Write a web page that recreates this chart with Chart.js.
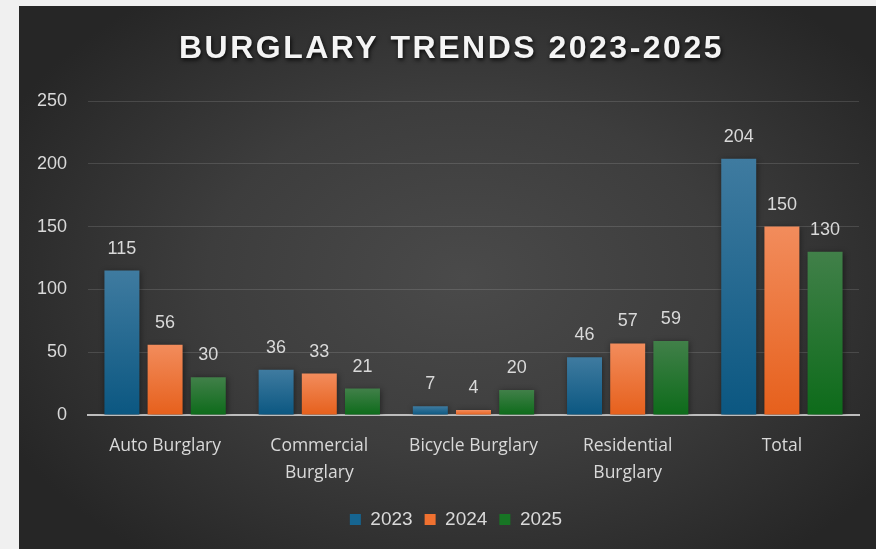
<!DOCTYPE html>
<html>
<head>
<meta charset="utf-8">
<script src="https://cdn.jsdelivr.net/npm/chart.js@4.4.0/dist/chart.umd.min.js"></script>
<style>
  html, body { margin: 0; padding: 0; background: #f0f0f0; }
  body { width: 876px; height: 549px; overflow: hidden; position: relative; }
  #panel {
    position: absolute; left: 19px; top: 6px; width: 857px; height: 543px;
    background: radial-gradient(ellipse 60% 65% at 52% 50%, #4a4a4a 0%, #3d3d3d 50%, #262626 100%);
  }
  canvas { display: block; }
</style>
</head>
<body>
<div id="panel"><canvas id="chart" width="857" height="543"></canvas></div>
<script>
// 数据
const categories = ['Auto Burglary', ['Commercial', 'Burglary'], 'Bicycle Burglary', ['Residential', 'Burglary'], 'Total'];
const years = ['2023', '2024', '2025'];
const values2023 = [115, 36, 7, 46, 204];
const values2024 = [56, 33, 4, 57, 150];
const values2025 = [30, 21, 20, 59, 130];
const yTicks = [0, 50, 100, 150, 200, 250];

// 颜色：上浅下深
const palette = [
  { top: '#3f7ba0', bottom: '#0b5781', solid: '#166591' },
  { top: '#f28c5c', bottom: '#e6601c', solid: '#f07130' },
  { top: '#418049', bottom: '#0d6b1a', solid: '#177524' }
];

const textColor = '#d9d9d9';

function barGradient(idx) {
  return function (ctx) {
    const chart = ctx.chart;
    if (!chart.chartArea || ctx.raw === undefined) return palette[idx].solid;
    const y = chart.scales.y;
    const top = y.getPixelForValue(ctx.raw);
    const bottom = y.getPixelForValue(0);
    const g = chart.ctx.createLinearGradient(0, top, 0, bottom);
    g.addColorStop(0, palette[idx].top);
    g.addColorStop(1, palette[idx].bottom);
    return g;
  };
}

// 标题插件
const titlePlugin = {
  id: 'fancyTitle',
  afterDraw(chart) {
    const c = chart.ctx;
    c.save();
    c.font = 'bold 32px "Liberation Sans", Arial, sans-serif';
    c.letterSpacing = '2.5px';
    c.textAlign = 'center';
    c.textBaseline = 'middle';
    c.shadowColor = 'rgba(0,0,0,0.85)';
    c.shadowBlur = 4;
    c.shadowOffsetX = 1;
    c.shadowOffsetY = 2;
    c.fillStyle = '#f4f4f4';
    c.fillText('BURGLARY TRENDS 2023-2025', chart.width / 2 + 4, 43);
    c.restore();
  }
};

// 图例稍微右移
const legendShift = {
  id: 'legendShift',
  afterLayout(chart) {
    if (chart.legend) {
      chart.legend.left += 17;
      chart.legend.right += 17;
    }
  }
};

// 柱子阴影
const shadowPlugin = {
  id: 'barShadow',
  beforeDatasetsDraw(chart) {
    const c = chart.ctx;
    c.save();
    c.shadowColor = 'rgba(0,0,0,0.45)';
    c.shadowBlur = 6;
    c.shadowOffsetX = 1;
    c.shadowOffsetY = 1;
  },
  afterDatasetsDraw(chart) {
    chart.ctx.restore();
  }
};

// 数值标签
const valueLabels = {
  id: 'valueLabels',
  afterDatasetsDraw(chart) {
    const c = chart.ctx;
    c.save();
    c.font = '18px "Liberation Sans", Arial, sans-serif';
    c.fillStyle = textColor;
    c.textAlign = 'center';
    c.textBaseline = 'bottom';
    chart.data.datasets.forEach((ds, i) => {
      const meta = chart.getDatasetMeta(i);
      meta.data.forEach((bar, j) => {
        c.fillText(String(ds.data[j]), bar.x, bar.y - 13);
      });
    });
    c.restore();
  }
};

const allValues = [values2023, values2024, values2025];

new Chart(document.getElementById('chart'), {
  type: 'bar',
  data: {
    labels: categories,
    datasets: years.map((yr, i) => ({
      label: yr,
      data: allValues[i],
      backgroundColor: barGradient(i),
      borderWidth: 0,
      categoryPercentage: 0.84,
      barPercentage: 0.81
    }))
  },
  options: {
    responsive: false,
    animation: false,
    devicePixelRatio: 1,
    layout: { padding: { top: 95, right: 17, bottom: 10, left: 0 } },
    plugins: {
      title: { display: false },
      tooltip: { enabled: false },
      legend: {
        position: 'bottom',
        labels: {
          color: textColor,
          font: { size: 19, family: '"Liberation Sans", Arial, sans-serif' },
          boxWidth: 11,
          boxHeight: 11,
          padding: 12,
          generateLabels(chart) {
            return chart.data.datasets.map((ds, i) => ({
              text: ds.label,
              fillStyle: palette[i].solid,
              strokeStyle: palette[i].solid,
              lineWidth: 0,
              fontColor: textColor,
              datasetIndex: i
            }));
          }
        }
      }
    },
    scales: {
      x: {
        grid: { display: false, drawTicks: false },
        border: { display: true, color: '#bdbdbd', width: 2 },
        ticks: {
          color: textColor,
          padding: 18,
          font: { size: 17.5, family: '"Open Sans", sans-serif', lineHeight: '27px' },
          maxRotation: 0,
          autoSkip: false
        },
        afterFit(scale) { scale.height = 83; }
      },
      y: {
        min: 0,
        max: 250,
        afterBuildTicks(scale) { scale.ticks = yTicks.map(v => ({ value: v })); },
        grid: { color: 'rgba(255,255,255,0.13)', lineWidth: 1, drawTicks: false },
        border: { display: false },
        ticks: {
          color: textColor,
          padding: 21,
          font: { size: 18, family: '"Liberation Sans", Arial, sans-serif' }
        },
        afterFit(scale) { scale.width = 69; }
      }
    }
  },
  plugins: [shadowPlugin, valueLabels, titlePlugin, legendShift]
});
</script>
</body>
</html>
